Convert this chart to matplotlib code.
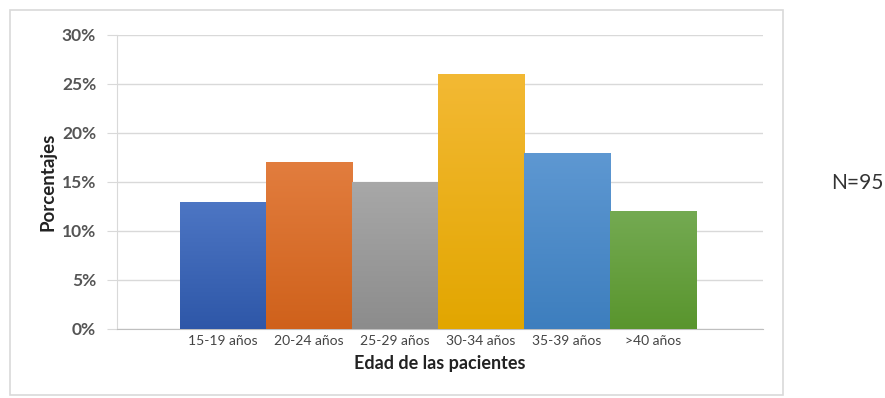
import numpy as np
import matplotlib
matplotlib.use("Agg")
import matplotlib.pyplot as plt
from matplotlib.patches import Rectangle
from matplotlib.colors import LinearSegmentedColormap
from matplotlib.ticker import FuncFormatter

plt.rcParams['font.family'] = ['Lato', 'DejaVu Sans']

# datos
grupos = ['15-19 años', '20-24 años', '25-29 años', '30-34 años', '35-39 años', '>40 años']
porcentajes = [13, 17, 15, 26, 18, 12]
colores_sup = ['#4d76c4', '#e27d3e', '#a8a8a8', '#f3b934', '#5e98d2', '#74aa52']
colores_inf = ['#2e57a8', '#cf611b', '#8c8c8c', '#e2a600', '#3d7ebe', '#59952d']

fig = plt.figure(figsize=(8.85, 3.98), dpi=100)
ax = fig.add_axes([0.1322, 0.1734, 0.7299, 0.7387])

x = np.arange(len(grupos))
barras = ax.bar(x, porcentajes, width=1.0, color=colores_inf, linewidth=0, zorder=2)

# degradado vertical dentro de cada barra
grad = np.linspace(1, 0, 256).reshape(-1, 1)
for b, c1, c2 in zip(barras, colores_sup, colores_inf):
    cmap = LinearSegmentedColormap.from_list('g', [c2, c1])
    x0, w, h = b.get_x(), b.get_width(), b.get_height()
    im = ax.imshow(grad, cmap=cmap, aspect='auto', extent=[x0, x0 + w, 0, h],
                   zorder=3, interpolation='bicubic')
    im.set_clip_path(b)

ax.set_xlim(-1.23, 6.28)
ax.set_ylim(0, 30)
ax.set_yticks(np.arange(0, 31, 5))
ax.yaxis.set_major_formatter(FuncFormatter(lambda v, p: f'{int(v)}%'))
ax.grid(axis='y', color='#d9d9d9', linewidth=1.0, zorder=0)
ax.set_axisbelow(True)

for s in ['top', 'right']:
    ax.spines[s].set_visible(False)
ax.spines['left'].set_color('#d9d9d9')
ax.spines['bottom'].set_color('#bfbfbf')
ax.tick_params(axis='y', length=7, color='#d9d9d9', labelsize=12.5,
               labelcolor='#555555', pad=8)
ax.tick_params(axis='x', length=0, labelsize=10, labelcolor='#444444', pad=4)
for t in ax.get_yticklabels():
    t.set_fontweight('bold')

ax.set_xticks(x)
ax.set_xticklabels(grupos)
ax.set_xlabel('Edad de las pacientes', fontsize=13, fontweight='bold',
              color='#222222', labelpad=6)
ax.set_ylabel('Porcentajes', fontsize=13.5, fontweight='bold',
              color='#222222', labelpad=4)

fig.text(857 / 885, 1 - 183 / 398, 'N=95', fontsize=15, color='#333333',
         ha='center', va='center')

# marco exterior del grafico
fig.patches.append(Rectangle((10 / 885, 3 / 398), 773 / 885, 385 / 398,
                             transform=fig.transFigure, fill=False,
                             edgecolor='#d9d9d9', linewidth=1.2))

fig.savefig('out.png', dpi=100)
